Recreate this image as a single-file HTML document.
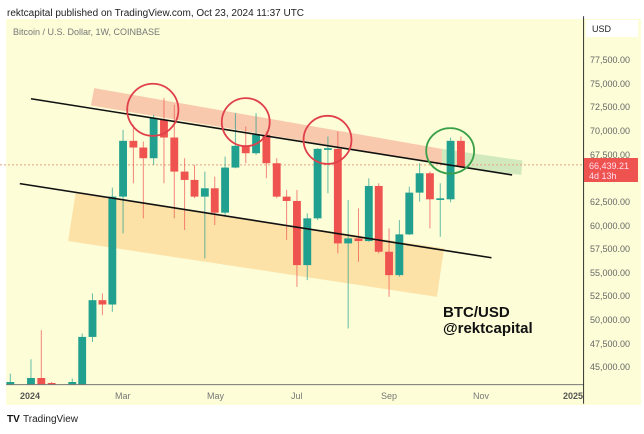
<!DOCTYPE html>
<html><head><meta charset="utf-8"><style>
body{margin:0;background:#fff;width:644px;height:429px;overflow:hidden;font-family:"Liberation Sans",sans-serif}
</style></head><body>
<svg width="644" height="429" viewBox="0 0 644 429" xmlns="http://www.w3.org/2000/svg" font-family="Liberation Sans, sans-serif">
<rect width="644" height="429" fill="#fff"/>
<rect x="6" y="19" width="635" height="386" fill="#fdfdd8"/>
<text x="7" y="16" font-size="10" fill="#222">rektcapital published on TradingView.com, Oct 23, 2024 11:37 UTC</text>
<text x="13" y="35" font-size="9" fill="#777">Bitcoin / U.S. Dollar, 1W, COINBASE</text>
<g transform="translate(0,-2.1) scale(0.413,0.334)">
<polygon points="228,270 1070,452 1070,497 220,322" fill="#f8c3a8" opacity="0.9"/>
<polygon points="1070,452 1265,487 1262,530 1070,500" fill="#cde7bb" opacity="0.9"/>
<polygon points="183,585 1075,750 1058,895 165,728" fill="#fbdd9f" opacity="0.85"/>
<line x1="0" y1="500" x2="1413" y2="500" stroke="#e8a080" stroke-width="1" stroke-dasharray="2,2" vector-effect="non-scaling-stroke"/>
<g stroke-width="1" vector-effect="non-scaling-stroke">
<!-- candles: x, open/close top, bottom, wickTop, wickBot, color -->
</g>
<g id="c"></g>
<line x1="75" y1="302" x2="1240" y2="530" stroke="#111" stroke-width="1.6" vector-effect="non-scaling-stroke"/>
<line x1="48" y1="556" x2="1190" y2="778" stroke="#111" stroke-width="1.6" vector-effect="non-scaling-stroke"/>
<ellipse cx="370" cy="335" rx="62" ry="78" fill="none" stroke="#e0404a" stroke-width="1.8" vector-effect="non-scaling-stroke"/>
<ellipse cx="595" cy="372" rx="58" ry="72" fill="none" stroke="#e0404a" stroke-width="1.8" vector-effect="non-scaling-stroke"/>
<ellipse cx="793" cy="425" rx="58" ry="72" fill="none" stroke="#e0404a" stroke-width="1.8" vector-effect="non-scaling-stroke"/>
<ellipse cx="1090" cy="458" rx="58" ry="68" fill="none" stroke="#3aa048" stroke-width="1.8" vector-effect="non-scaling-stroke"/>
<line x1="15" y1="1158" x2="1413" y2="1158" stroke="#777" stroke-width="1" vector-effect="non-scaling-stroke"/>
<line x1="1413" y1="55" x2="1413" y2="1215" stroke="#333" stroke-width="1" vector-effect="non-scaling-stroke"/>
</g>
<rect x="586" y="20" width="52" height="17" fill="#fff"/>
<text x="592" y="32" font-size="9" fill="#222">USD</text>
<g font-size="9" fill="#666">
<text x="590" y="63">77,500.00</text><text x="590" y="87">75,000.00</text><text x="590" y="110">72,500.00</text>
<text x="590" y="134">70,000.00</text><text x="590" y="158">67,500.00</text><text x="590" y="205">62,500.00</text>
<text x="590" y="229">60,000.00</text><text x="590" y="252">57,500.00</text><text x="590" y="276">55,000.00</text>
<text x="590" y="299">52,500.00</text><text x="590" y="323">50,000.00</text><text x="590" y="347">47,500.00</text>
<text x="590" y="370">45,000.00</text>
</g>
<rect x="584" y="158" width="54" height="24" fill="#ef5350"/>
<text x="589" y="169" font-size="9" fill="#fde">66,439.21</text>
<text x="589" y="179" font-size="9" fill="#fde">4d 13h</text>
<g font-size="9" fill="#777">
<text x="20" y="399" font-weight="bold" fill="#555">2024</text>
<text x="115" y="399">Mar</text><text x="207" y="399">May</text><text x="291" y="399">Jul</text>
<text x="381" y="399">Sep</text><text x="473" y="399">Nov</text>
<text x="563" y="399" font-weight="bold" fill="#555">2025</text>
</g>
<text x="443" y="317" font-size="15" font-weight="bold" fill="#111">BTC/USD</text>
<text x="443" y="333" font-size="15" font-weight="bold" fill="#111">@rektcapital</text>
<text x="7" y="422" font-size="10" font-weight="bold" fill="#111">TV</text>
<text x="23" y="422" font-size="10" fill="#222">TradingView</text>
</svg>
<script>
var d=[[25,1150,1158,1125,1158,'g'],[75,1138,1158,1082,1158,'g'],[100,1138,1158,995,1158,'r'],[125,1153,1158,1150,1158,'r'],[175,1150,1158,1140,1158,'g'],
[199,1015,1158,1005,1158,'g'],[224,905,1015,885,1030,'g'],[248,905,918,885,950,'r'],[272,595,918,568,940,'g'],[298,428,595,395,705,'g'],
[323,428,448,380,555,'r'],[347,448,480,430,660,'r'],[372,360,480,350,500,'g'],[397,365,418,300,555,'r'],[422,418,520,320,660,'r'],
[447,520,545,480,695,'r'],[471,545,595,500,600,'r'],[496,570,595,520,780,'g'],[520,570,643,535,680,'r'],[545,508,643,475,655,'g'],
[570,443,508,345,510,'g'],[595,443,465,385,495,'r'],[620,410,465,345,470,'g'],[645,410,495,400,540,'r'],[670,495,595,480,600,'r'],
[694,595,608,575,725,'r'],[719,608,800,575,865,'r'],[744,660,800,645,845,'g'],[769,452,660,450,665,'g'],[794,450,455,415,585,'g'],
[818,452,735,400,765,'r'],[843,720,735,605,990,'g'],[868,720,728,630,790,'r'],[893,563,728,540,730,'g'],[917,563,760,555,765,'r'],
[942,760,830,690,895,'r'],[967,708,830,665,835,'g'],[991,583,708,565,710,'g'],[1016,525,583,495,610,'g'],[1041,525,603,520,690,'r'],
[1066,600,605,555,715,'g'],[1091,428,603,418,612,'g'],[1116,428,505,415,510,'r']];
var g=document.getElementById('c'),ns='http://www.w3.org/2000/svg',s='';
d.forEach(function(c){var col=c[5]=='g'?'#22a08f':'#ef5350';
s+='<line x1="'+c[0]+'" x2="'+c[0]+'" y1="'+c[3]+'" y2="'+c[4]+'" stroke="'+col+'" stroke-width="1" opacity="0.7" vector-effect="non-scaling-stroke"/>';
s+='<rect x="'+(c[0]-9.5)+'" y="'+c[1]+'" width="19" height="'+Math.max(c[2]-c[1],4)+'" fill="'+col+'"/>';});
g.innerHTML=s;
</script>
</body></html>
